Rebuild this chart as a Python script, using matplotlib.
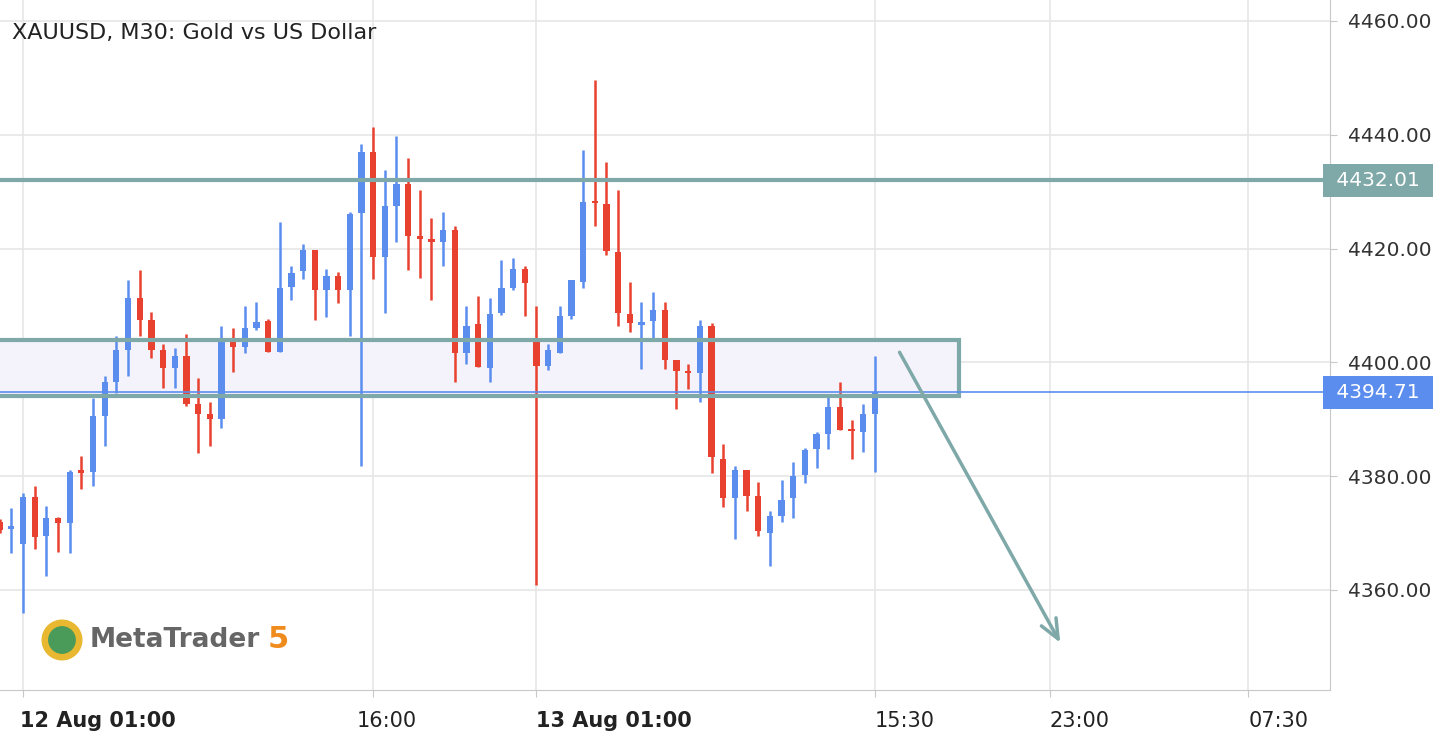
import matplotlib
matplotlib.use("Agg")
import matplotlib.pyplot as plt
from matplotlib.patches import Rectangle

idx = list(range(-2, 74))
opens = [4372,4370.8,4368,4376.3,4369.5,4372.7,4371.8,4381,4380.7,4390.6,4396.6,4402.2,4411.3,4407.5,4402.2,4399,4401.1,4392.7,4391,4390,4403.6,4402.7,4406,4407.3,4401.8,4413.3,
         4416,4419.8,4412.8,4415.2,4412.8,4426.2,4436.9,4418.5,4427.5,4431.4,4422.2,4421.6,4421.2,4423.3,4401.6,4406.7,4399.1,4408.6,4413,4416.5,4403.5,4399.4,4401.6,4408.2,4414.1,
         4428.3,4427.8,4419.4,4408.5,4406.5,4407.2,4409.2,4400.4,4398.3,4398.1,4406.4,4383.1,4376.2,4381,4376.5,4370,4373,4376.2,4380.2,4384.7,4387.5,4392.2,4388.2,4387.8,4391]
closes = [4370.5,4371.2,4376.3,4369.3,4372.7,4371.8,4380.7,4380.5,4390.6,4396.6,4402.2,4411.3,4407.5,4402.2,4399,4401.1,4392.7,4391,4390,4403.6,4402.7,4406,4407.1,4401.8,4413.1,4415.7,
          4419.8,4412.8,4415.2,4412.8,4426.1,4436.9,4418.5,4427.5,4431.4,4422.3,4421.6,4421.2,4423.3,4401.6,4406.4,4399.2,4408.5,4413,4416.5,4413.9,4399.4,4402.2,4408.2,4414.5,4428.2,
          4428,4419.5,4408.6,4406.9,4407.1,4409.2,4400.4,4398.4,4398.2,4406.4,4383.3,4376.2,4381,4376.6,4370.3,4373,4375.8,4380,4384.6,4387.4,4392.2,4388.2,4388,4390.9,4394.71]
highs = [4372.5,4374.4,4377,4378.3,4374.8,4372.8,4381,4383.5,4393.7,4397.6,4404.6,4414.5,4416.2,4408.9,4403.2,4402.5,4405,4397.3,4393,4406.4,4406,4409.9,4410.6,4407.6,4424.7,4417,
         4420.8,4419.8,4416.5,4415.8,4426.4,4438.4,4441.3,4433.8,4439.8,4435.9,4430.3,4425.3,4426.5,4424,4409.9,4411.7,4411.3,4418,4418.3,4416.9,4409.9,4403.2,4409.9,4414.5,4437.3,
         4449.6,4435.2,4430.3,4414.1,4410.6,4412.4,4410.6,4400.4,4399.7,4407.5,4407,4385.7,4381.8,4381,4379,4373.8,4379.3,4382.5,4384.9,4387.8,4394,4396.5,4389.9,4392.6,4401.1]
lows = [4370,4366.5,4356,4367.2,4362.5,4366.7,4366.5,4377.8,4378.3,4385.3,4394.6,4397.6,4404.6,4400.8,4395.5,4395.5,4392.3,4384.1,4385.3,4388.5,4398.3,4401.7,4405.7,4401.8,4401.8,4411,
        4414.6,4407.5,4407.9,4410.4,4404.7,4381.8,4414.6,4408.6,4421.2,4416.2,4414.9,4411,4417,4396.6,4399.8,4399.2,4396.6,4408.3,4412.7,4408.2,4360.9,4398.7,4401.6,4407.6,4413.1,
        4424,4418.8,4406.4,4405.4,4398.8,4404.2,4398.8,4391.8,4395.3,4393.1,4380.5,4374.5,4368.9,4373.8,4369.5,4364.2,4372,4372.7,4378.8,4381.5,4384.7,4388.2,4383,4384.3,4380.8]

y_ticks = [4360, 4380, 4400, 4420, 4440, 4460]
x_tick_pos = [0, 30, 44, 73, 88, 105]
x_tick_labels = ["12 Aug 01:00", "16:00", "13 Aug 01:00", "15:30", "23:00", "07:30"]
x_tick_bold = [True, False, True, False, False, False]
resistance = 4432.01
last_price = 4394.71
zone_low, zone_high = 4394.1, 4403.9
zone_x_end = 80.2
arrow_start = (75.0, 4402.2)
arrow_end = (89.0, 4350.3)

UP = "#5b8def"
DN = "#e8412f"
TEAL = "#7fa8a8"

fig = plt.figure(figsize=(14.42, 7.40), dpi=100)
ax = fig.add_axes([0, 50/740, 1330/1442, 690/740])
ax.set_xlim(-1.97, 112.0)
ax.set_ylim(4342.42, 4463.69)

for y in y_ticks:
    ax.axhline(y, color="#e6e6e6", lw=1.2, zorder=0)
for x in x_tick_pos:
    ax.axvline(x, color="#e6e6e6", lw=1.2, zorder=0)

ax.add_patch(Rectangle((-5, zone_low), zone_x_end + 5, zone_high - zone_low,
                       facecolor="#f4f3fc", edgecolor="none", zorder=1))

for i, o, c, h, l in zip(idx, opens, closes, highs, lows):
    col = UP if c >= o else DN
    ax.vlines(i, l, h, color=col, lw=1.8, zorder=3)
    lo, hi = min(o, c), max(o, c)
    if hi - lo < 0.4:
        lo, hi = (o + c) / 2 - 0.2, (o + c) / 2 + 0.2
    ax.add_patch(Rectangle((i - 0.27, lo), 0.54, hi - lo, facecolor=col, edgecolor="none", zorder=4))

ax.add_patch(Rectangle((-5, zone_low), zone_x_end + 5, zone_high - zone_low,
                       facecolor="none", edgecolor=TEAL, lw=3, zorder=5))
ax.axhline(resistance, color=TEAL, lw=3, zorder=5)
ax.axhline(last_price, color=UP, lw=1.2, zorder=5)

ax.annotate("", xy=arrow_end, xytext=arrow_start,
            arrowprops=dict(arrowstyle="->,head_length=1.4,head_width=0.6", color=TEAL, lw=2.5), zorder=6)

for s in ["top", "left"]:
    ax.spines[s].set_visible(False)
ax.spines["right"].set_color("#c8c8c8")
ax.spines["bottom"].set_color("#c8c8c8")
ax.yaxis.tick_right()
ax.set_yticks(y_ticks)
ax.set_yticklabels([f"{v:.2f}" for v in y_ticks], fontsize=14.5, color="#333333")
ax.tick_params(axis="y", length=5, color="#c8c8c8", pad=8)
ax.set_xticks(x_tick_pos)
ax.set_xticklabels([])
ax.tick_params(axis="x", length=5, color="#c8c8c8")
label_offsets = [-0.25, -1.4, 0, 0, 0, 0]
for pos, lab, b, off in zip(x_tick_pos, x_tick_labels, x_tick_bold, label_offsets):
    ax.text(pos + off, -0.045, lab, transform=ax.get_xaxis_transform(), ha="left", va="center",
            fontsize=15, fontweight="bold" if b else "normal", color="#222222", clip_on=False)

for val, col in [(resistance, TEAL), (last_price, UP)]:
    ax.text(1.0, val, f" {val:.2f} ", transform=ax.get_yaxis_transform(), va="center", ha="left",
            fontsize=14.5, color="white",
            bbox=dict(boxstyle="square,pad=0.35", facecolor=col, edgecolor="none"), clip_on=False, zorder=10)

fig.text(12/1442, 1 - 33/740, "XAUUSD, M30: Gold vs US Dollar", fontsize=16, color="#222222", va="center")
fig.text(90/1442, 1 - 640/740, "MetaTrader", fontsize=19, fontweight="bold", color="#666666", va="center")
fig.text(268/1442, 1 - 640/740, "5", fontsize=22, fontweight="bold", color="#f08c1e", va="center")
logo = fig.add_axes([40/1442, 1 - 662/740, 44/1442, 44/740])
logo.axis("off")
logo.add_patch(plt.Circle((0.5, 0.5), 0.45, color="#e8b830"))
logo.add_patch(plt.Circle((0.5, 0.5), 0.3, color="#4a9a5a"))
logo.set_xlim(0, 1); logo.set_ylim(0, 1); logo.set_aspect("equal")

fig.savefig("out.png", dpi=100)
